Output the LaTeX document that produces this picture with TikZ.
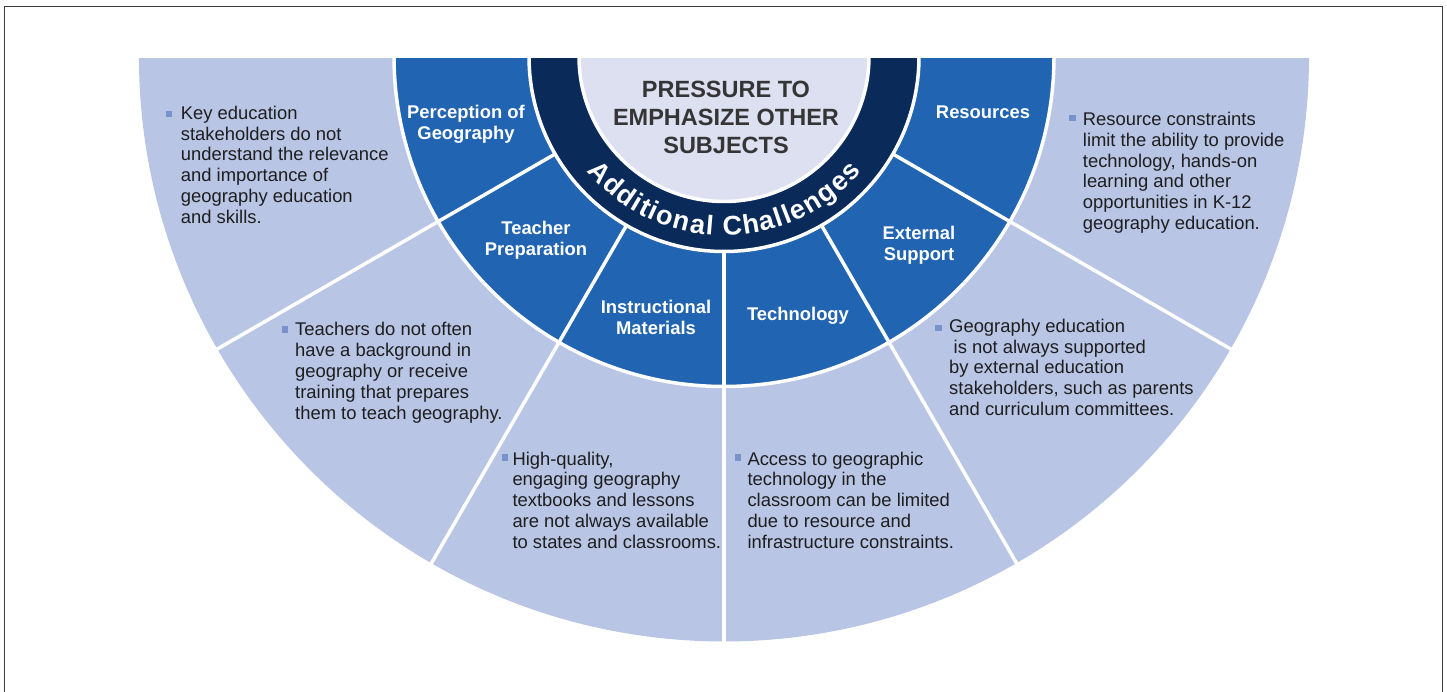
\documentclass[tikz,border=0pt]{standalone}
\usepackage{fontspec}
\setmainfont{Liberation Sans}
\usetikzlibrary{decorations.text}
\definecolor{outerc}{RGB}{185,197,229}
\definecolor{midc}{RGB}{33,100,178}
\definecolor{darkc}{RGB}{10,43,90}
\definecolor{centerc}{RGB}{220,224,241}
\definecolor{bulletc}{RGB}{120,146,204}
\definecolor{txtc}{RGB}{30,30,30}
\definecolor{framec}{RGB}{60,60,60}
\begin{document}
\begin{tikzpicture}[x=1pt,y=1pt,
  divider/.style={white, line width=3.5pt},
  seclabel/.style={text=white, font=\fontsize{18.4}{21}\selectfont\bfseries, align=center, inner sep=0pt, anchor=base},
  bodytext/.style={text=txtc, font=\fontsize{18.4}{20.8}\selectfont, align=left, inner sep=0pt, anchor=base west},
  bulletbox/.style={fill=bulletc, minimum size=6.5pt, inner sep=0pt},
  centertext/.style={text=txtc!90!white, font=\fontsize{23.5}{28}\selectfont\bfseries, align=center, inner sep=0pt, anchor=base}
]
\useasboundingbox (0,0) rectangle (1447,691);
\draw[framec, line width=1.6pt] (4.5,-5) -- (4.5,684.5) -- (1442.5,684.5) -- (1442.5,-5);
\coordinate (C) at (724,634.5);
\begin{scope}
  \clip (0,0) rectangle (1447,632);
  \fill[outerc] (C) -- ++(175:585) arc[start angle=175, end angle=365, radius=585] -- cycle;
  \fill[midc] (C) circle[radius=330];
  \fill[darkc] (C) circle[radius=195];
  \fill[centerc] (C) circle[radius=145];
  \foreach \a in {210,240,...,330} \draw[divider] ([shift={(\a:195)}]C) -- ([shift={(\a:586)}]C);
  \draw[divider] (C) circle[radius=330];
  \draw[divider] (C) circle[radius=195];
  \draw[divider] (C) circle[radius=145];
\end{scope}
\path[decorate, decoration={text along path, text align=fit to path,
  text={|\fontsize{27}{27}\selectfont\bfseries\color{white}|Additional Challenges}}]
  ([shift={(220:179)}]C) arc[start angle=220, end angle=320, radius=179];
\node[centertext] (ctr) at (726,537.5) {PRESSURE TO\\EMPHASIZE OTHER\\SUBJECTS};
% sector labels (anchor = baseline of last line)
\node[seclabel] (s1) at (466,551) {Perception of\\Geography};
\node[seclabel] (s2) at (536,435) {Teacher\\Preparation};
\node[seclabel] (s3) at (656,356) {Instructional\\Materials};
\node[seclabel] (s4) at (798,370.3) {Technology};
\node[seclabel] (s5) at (919,430) {External\\Support};
\node[seclabel] (s6) at (983,572) {Resources};
% bullets and texts (anchor = baseline of last line)
\node[bulletbox] (b1) at (169,577) {};
\node[bodytext] (t1) at (180.7,467.7) {Key education\\stakeholders do not\\understand the relevance\\and importance of\\geography education\\and skills.};
\node[bulletbox] (b2) at (285,361.7) {};
\node[bodytext] (t2) at (295,271.8) {Teachers do not often\\have a background in\\geography or receive\\training that prepares\\them to teach geography.};
\node[bulletbox] (b3) at (505,233.5) {};
\node[bodytext] (t3) at (512.3,142.8) {High-quality,\\engaging geography\\textbooks and lessons\\are not always available\\to states and classrooms.};
\node[bulletbox] (b4) at (737.8,233.5) {};
\node[bodytext] (t4) at (747.3,142.8) {Access to geographic\\technology in the\\classroom can be limited\\due to resource and\\infrastructure constraints.};
\node[bulletbox] (b5) at (938.3,362.8) {};
\node[bodytext] (t5) at (949,275.5) {Geography education\\\hspace*{4.5pt}is not always supported\\by external education\\stakeholders, such as parents\\and curriculum committees.};
\node[bulletbox] (b6) at (1072.7,573) {};
\node[bodytext] (t6) at (1082.7,461.5) {Resource constraints\\limit the ability to provide\\technology, hands-on\\learning and other\\opportunities in K-12\\geography education.};
\end{tikzpicture}
\end{document}
